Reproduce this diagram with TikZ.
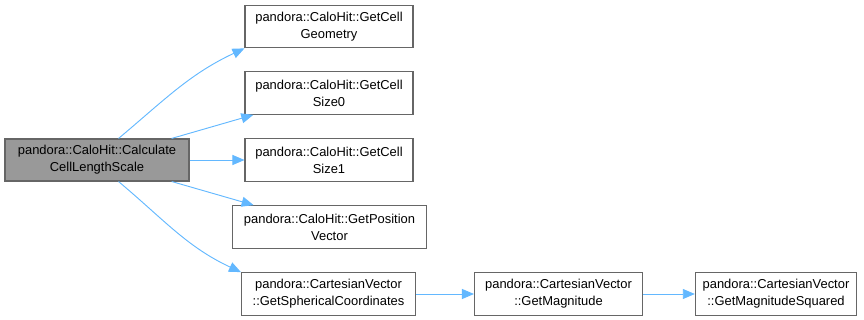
\documentclass[tikz,border=0pt]{standalone}
\usepackage{fontspec}
\setmainfont{Liberation Sans}
\usetikzlibrary{arrows.meta}
\definecolor{edgeblue}{HTML}{63B8FF}
\definecolor{boxline}{HTML}{666666}
\definecolor{boxgray}{HTML}{999999}
\tikzset{
  fn/.style={draw=boxline,fill=white,line width=0.8pt,align=center,inner sep=0pt,
    font=\fontsize{9.7}{12.75}\selectfont},
  edge/.style={draw=edgeblue,line width=0.7pt,-{Triangle[length=9pt,width=7.5pt]}}
}
\begin{document}
\begin{tikzpicture}[x=0.75pt,y=-0.75pt]
  \useasboundingbox (0,0) rectangle (864,320);
  % Caller
  \node[fn,fill=boxgray,minimum width=138pt,minimum height=31.5pt] (calc) at (97,160)
    {pandora::CaloHit::Calculate\\CellLengthScale};
  % Callees
  \node[fn,minimum width=126pt,minimum height=32pt] (geom) at (329,26.5)
    {pandora::CaloHit::GetCell\\Geometry};
  \node[fn,minimum width=126pt,minimum height=32pt] (size0) at (329,93)
    {pandora::CaloHit::GetCell\\Size0};
  \node[fn,minimum width=126pt,minimum height=32pt] (size1) at (329,160)
    {pandora::CaloHit::GetCell\\Size1};
  \node[fn,minimum width=146pt,minimum height=32pt] (pos) at (329.5,227)
    {pandora::CaloHit::GetPosition\\Vector};
  \node[fn,minimum width=130.5pt,minimum height=32pt] (sph) at (328.5,294)
    {pandora::CartesianVector\\::GetSphericalCoordinates};
  % Second level
  \node[fn,minimum width=126pt,minimum height=32pt] (mag) at (558.5,294)
    {pandora::CartesianVector\\::GetMagnitude};
  \node[fn,minimum width=121pt,minimum height=32pt] (magsq) at (776,294)
    {pandora::CartesianVector\\::GetMagnitudeSquared};
  % Edges
  \draw[edge] (calc.45) to[out=40,in=205] (geom.south west);
  \foreach \x/\y in {calc/size0,calc/size1,calc/pos,sph/mag,mag/magsq}
    \draw[edge] (\x)--(\y);
  \draw[edge] (calc.-45) to[out=-40,in=155] (sph.north west);
\end{tikzpicture}
\end{document}
